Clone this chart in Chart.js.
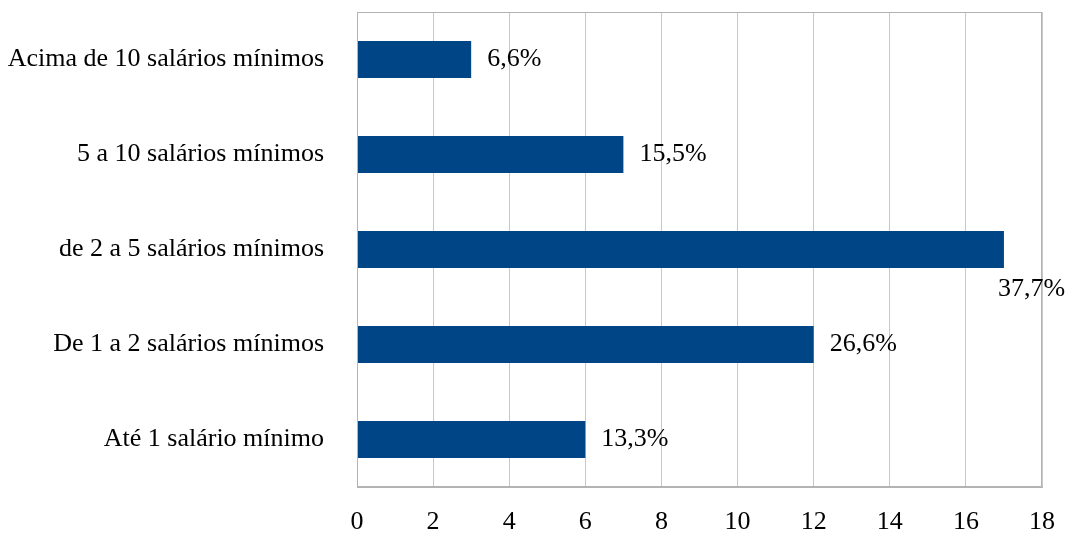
<!DOCTYPE html>
<html>
<head>
<meta charset="utf-8">
<script src="https://cdn.jsdelivr.net/npm/chart.js@4/dist/chart.umd.min.js"></script>
<style>
  body { margin: 0; background: #fff; }
</style>
</head>
<body>
<canvas id="chartRenda" width="1066" height="533"></canvas>
<script>
// Faixas de renda
const categorias = ['Acima de 10 salários mínimos', '5 a 10 salários mínimos', 'de 2 a 5 salários mínimos', 'De 1 a 2 salários mínimos', 'Até 1 salário mínimo'];
const valores = [3, 7, 17, 12, 6];
const rotulos = ['6,6%', '15,5%', '37,7%', '26,6%', '13,3%'];
const ticksX = [0, 2, 4, 6, 8, 10, 12, 14, 16, 18];

const fonte = 'Liberation Serif, Times New Roman, serif';

// desenha os percentuais ao lado das barras e a moldura da area do grafico
const rotulosPlugin = {
    id: 'rotulos',
    afterDatasetsDraw(chart) {
        const ctx = chart.ctx;
        const area = chart.chartArea;
        ctx.save();
        ctx.strokeStyle = '#b3b3b3';
        ctx.lineWidth = 1;
        ctx.strokeRect(area.left + 0.5, area.top + 0.5, area.right - area.left - 1, area.bottom - area.top - 1);

        ctx.font = '26px ' + fonte;
        ctx.fillStyle = '#000';
        ctx.textBaseline = 'middle';
        chart.getDatasetMeta(0).data.forEach((bar, i) => {
            const txt = rotulos[i];
            const w = ctx.measureText(txt).width;
            let x = bar.x + 16;
            let y = bar.y;
            if (x + w > area.right) {
                // nao cabe: vai para baixo da barra
                x = bar.x - 6;
                y = bar.y + 40;
            }
            ctx.fillText(txt, x, y);
        });
        ctx.restore();
    }
};

new Chart(document.getElementById('chartRenda').getContext('2d'), {
    type: 'bar',
    data: {
        labels: categorias,
        datasets: [{
            data: valores,
            backgroundColor: '#004586',
            borderWidth: 0,
            categoryPercentage: 1,
            barPercentage: 0.39
        }]
    },
    options: {
        indexAxis: 'y',
        responsive: false,
        animation: false,
        layout: {
            autoPadding: false,
            padding: { top: 12, right: 24, bottom: 0, left: 0 }
        },
        plugins: {
            legend: { display: false },
            tooltip: { enabled: false }
        },
        scales: {
            x: {
                min: 0,
                max: 18,
                afterBuildTicks: (scale) => {
                    scale.ticks = ticksX.map(v => ({ value: v }));
                },
                afterFit: (scale) => {
                    scale.height = 46;
                    scale.paddingLeft = 0;
                    scale.paddingRight = 0;
                },
                grid: {
                    color: '#c8c8c8',
                    lineWidth: 1,
                    drawTicks: false
                },
                border: { color: '#b3b3b3' },
                ticks: {
                    color: '#000',
                    padding: 20,
                    font: { family: fonte, size: 26 }
                }
            },
            y: {
                afterFit: (scale) => {
                    scale.width = 357;
                    scale.paddingTop = 0;
                    scale.paddingBottom = 0;
                },
                grid: { display: false },
                border: { color: '#b3b3b3' },
                ticks: {
                    color: '#000',
                    padding: 25,
                    font: { family: fonte, size: 26 }
                }
            }
        }
    },
    plugins: [rotulosPlugin]
});
</script>
</body>
</html>
